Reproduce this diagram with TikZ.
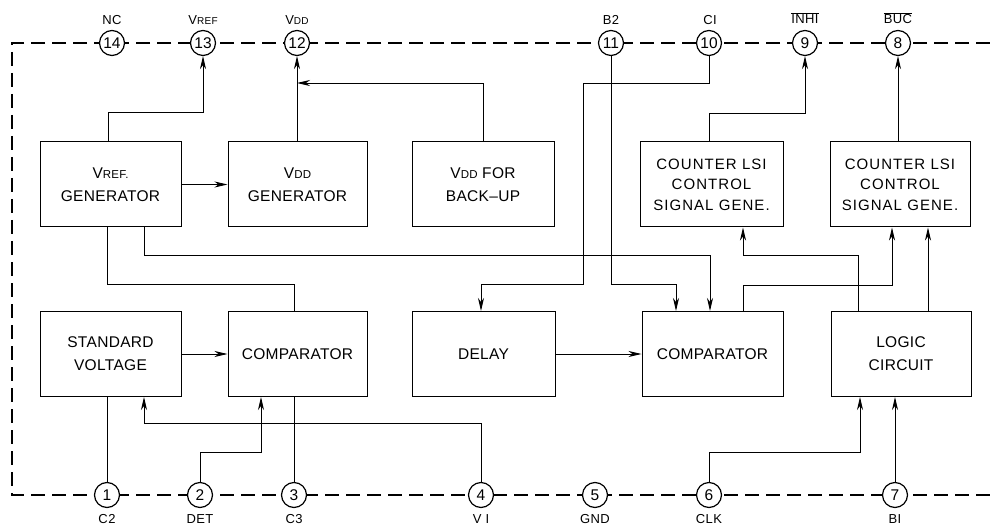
\documentclass[tikz,border=0pt]{standalone}
\usepackage{fontspec}
\setmainfont{Liberation Sans}
\usetikzlibrary{arrows.meta}
\newcommand\lowcap[1]{{\fontsize{11.5}{12}\selectfont #1}}
\newcommand\lowpin[1]{{\fontsize{10}{10}\selectfont #1}}
\begin{document}
\begin{tikzpicture}[x=1pt,y=-1pt,
  box/.style={draw,line width=1pt,minimum width=#1,minimum height=85pt,inner sep=0pt,align=center,font=\fontsize{15.5}{23}\selectfont\addfontfeatures{LetterSpace=2}},
  cbox/.style={box=#1,font=\fontsize{15}{20.5}\selectfont\addfontfeatures{LetterSpace=7}},
  pin/.style={circle,draw,fill=white,line width=1.2pt,minimum size=25pt,inner sep=0pt,font=\fontsize{15.5}{15.5}\selectfont},
  pinlab/.style={inner sep=0pt,font=\fontsize{13}{13}\selectfont\addfontfeatures{LetterSpace=3}},
  wire/.style={line width=0.9pt},
  arr/.style={wire,-{Stealth[length=13pt,width=6pt,inset=4pt]}},
  boundary/.style={line width=1.5pt,dash pattern=on 14pt off 7pt}]
\useasboundingbox (0,0) rectangle (990,529);
% boundary
\coordinate (bt) at (990,43);
\coordinate (btl) at (12,43);
\coordinate (bbl) at (12,495);
\coordinate (bb) at (990,495);
\draw[boundary] (bt) -- (btl) -- (bbl) -- (bb);
% pins
\node[pin] (p14) at (112,43) {14};
\node[pin] (p13) at (203,43) {13};
\node[pin] (p12) at (297,43) {12};
\node[pin] (p11) at (611,43) {11};
\node[pin] (p10) at (709,43) {10};
\node[pin] (p9) at (805,43) {9};
\node[pin] (p8) at (898,43) {8};
\node[pin] (p1) at (107,495) {1};
\node[pin] (p2) at (200,495) {2};
\node[pin] (p3) at (294,495) {3};
\node[pin] (p4) at (481,495) {4};
\node[pin] (p5) at (595,495) {5};
\node[pin] (p6) at (709,495) {6};
\node[pin] (p7) at (895,495) {7};
% pin labels
\node[pinlab] (l14) at (112,20) {NC};
\node[pinlab] (l13) at (203,20) {V\lowpin{REF}};
\node[pinlab] (l12) at (297,20) {V\lowpin{DD}};
\node[pinlab] (l11) at (611,20) {B2};
\node[pinlab] (l10) at (710,20) {CI};
\node[pinlab] (l9) at (805,18) {$\overline{\hbox{INHI}}$};
\node[pinlab] (l8) at (898,18) {$\overline{\hbox{BUC}}$};
\node[pinlab] (l1) at (107,519) {C2};
\node[pinlab] (l2) at (200,519) {DET};
\node[pinlab] (l3) at (294,519) {C3};
\node[pinlab] (l4) at (481,519) {V I};
\node[pinlab] (l5) at (595,519) {GND};
\node[pinlab] (l6) at (709,519) {CLK};
\node[pinlab] (l7) at (895,519) {BI};
% boxes
\node[box=141pt] (vref) at (110.5,184.5) {V\lowcap{REF.}\\GENERATOR};
\node[box=139pt] (vddgen) at (297.5,184.5) {V\lowcap{DD}\\GENERATOR};
\node[box=142pt] (backup) at (483,184.5) {V\lowcap{DD} FOR\\BACK--UP};
\node[cbox=143pt] (cnt1) at (711.5,184.5) {COUNTER LSI\\CONTROL\\SIGNAL GENE.};
\node[cbox=140pt] (cnt2) at (900,184.5) {COUNTER LSI\\CONTROL\\SIGNAL GENE.};
\node[box=141pt] (stdv) at (110.5,354) {STANDARD\\VOLTAGE};
\node[box=139pt] (comp1) at (297.5,354) {COMPARATOR};
\node[box=143pt] (delay) at (483.5,354) {DELAY};
\node[box=141pt] (comp2) at (712.5,354) {COMPARATOR};
\node[box=140pt] (logic) at (901,354) {LOGIC\\CIRCUIT};
% bend points
\coordinate (k1) at (108,112);
\coordinate (k3) at (297,83);
\coordinate (k4a) at (583,83);
\coordinate (k4b) at (583,284);
\coordinate (k5) at (611,284);
\coordinate (k5b) at (676,284);
\coordinate (k6a) at (144,255);
\coordinate (k6b) at (710,255);
\coordinate (k7a) at (107,284);
\coordinate (k7b) at (294,284);
\coordinate (k8) at (709,113);
\coordinate (k10a) at (743,285);
\coordinate (k10b) at (892,285);
\coordinate (k11a) at (858,255);
\coordinate (k11b) at (743,255);
\coordinate (k12) at (928,270);
\coordinate (k14a) at (481,423);
\coordinate (k14b) at (144,423);
\coordinate (k15a) at (200,452);
\coordinate (k15b) at (261,452);
\coordinate (k17a) at (709,452);
\coordinate (k17b) at (860,452);
% connectors
\draw[arr] (vref.north -| k1) -- (k1) -| (p13);
\draw[arr] (vddgen.north -| p12) -- (p12);
\draw[arr] (backup.north) |- (k3);
\draw[arr] (vref) -- (vddgen);
\draw[arr] (p10) |- (k4a) -- (k4b) -| (delay.north -| p4);
\draw[arr] (p11) -- (k5) -- (k5b) -- (comp2.north -| k5b);
\draw[arr] (vref.south -| k6a) -- (k6a) -- (k6b) -- (comp2.north -| k6b);
\draw[wire] (vref.south -| k7a) -- (k7a) -- (k7b) -- (comp1.north -| k7b);
\draw[arr] (cnt1.north -| k8) -- (k8) -| (p9);
\draw[arr] (cnt2.north -| p8) -- (p8);
\draw[arr] (comp2.north -| k10a) -- (k10a) -- (k10b) -- (cnt2.south -| k10b);
\draw[arr] (logic.north -| k11a) -- (k11a) -- (k11b) -- (cnt1.south -| k11b);
\draw[arr] (logic.north -| k12) -- (cnt2.south -| k12);
\draw[arr] (stdv) -- (comp1);
\draw[arr] (delay) -- (comp2);
\draw[wire] (p1) -- (stdv.south -| p1);
\draw[arr] (p4) -- (k14a) -- (k14b) -- (stdv.south -| k14b);
\draw[arr] (p2) -- (k15a) -- (k15b) -- (comp1.south -| k15b);
\draw[wire] (p3) -- (comp1.south -| p3);
\draw[arr] (p6) -- (k17a) -- (k17b) -- (logic.south -| k17b);
\draw[arr] (p7) -- (logic.south -| p7);
\end{tikzpicture}
\end{document}
